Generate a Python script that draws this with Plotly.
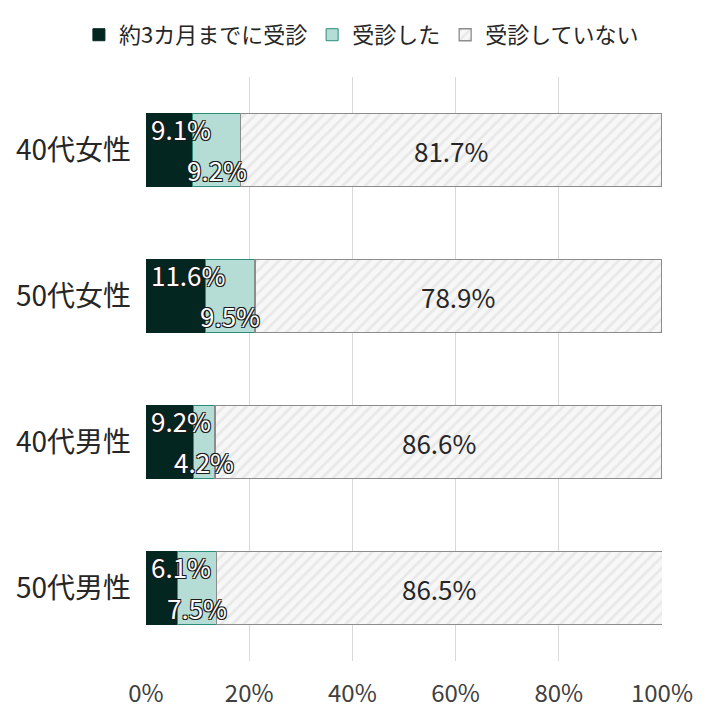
import plotly.graph_objects as go

# categories (top to bottom) and shares in %
groups = ["40代女性", "50代女性", "40代男性", "50代男性"]
within_3m = [9.1, 11.6, 9.2, 6.1]
visited = [9.2, 9.5, 4.2, 7.5]
not_visited = [81.7, 78.9, 86.6, 86.5]
x_ticks = [0, 20, 40, 60, 80, 100]
x_tick_labels = ["0%", "20%", "40%", "60%", "80%", "100%"]
series_names = ["約3カ月までに受診", "受診した", "受診していない"]

FONT = "Noto Sans CJK JP, Noto Sans, sans-serif"
OUTLINE = ("-1px -1px 0 #1a1a1a, 1px -1px 0 #1a1a1a, "
           "-1px 1px 0 #1a1a1a, 1px 1px 0 #1a1a1a")

fig = go.Figure()

fig.add_trace(go.Bar(
    y=groups, x=within_3m, orientation="h", name=series_names[0],
    marker=dict(color="#042620", line=dict(color="#042620", width=1)),
    hoverinfo="skip",
))
fig.add_trace(go.Bar(
    y=groups, x=visited, orientation="h", name=series_names[1],
    marker=dict(color="#b5ddd6", line=dict(color="#2a8c7a", width=1)),
    hoverinfo="skip",
))
fig.add_trace(go.Bar(
    y=groups, x=not_visited, orientation="h", name=series_names[2],
    marker=dict(color="#ffffff", line=dict(color="#8c8c8c", width=1.3),
                pattern=dict(shape="/", fgcolor="#d9d9d9", bgcolor="#f7f7f7",
                             size=8, solidity=0.35)),
    hoverinfo="skip",
))

# data labels: dark segment top-left, teal segment at bottom, grey in the middle
for g, a, b, c in zip(groups, within_3m, visited, not_visited):
    fig.add_annotation(
        x=0, xanchor="left", xshift=3, y=g, yshift=22, text=f"{a}%",
        showarrow=False,
        font=dict(size=26, color="white", family=FONT, shadow=OUTLINE),
    )
    fig.add_annotation(
        x=a + b / 2, y=g, yshift=-19, text=f"{b}%", showarrow=False,
        font=dict(size=26, color="white", family=FONT, shadow=OUTLINE),
    )
    fig.add_annotation(
        x=a + b + c / 2, y=g, text=f"{c}%", showarrow=False,
        font=dict(size=26, color="#262626", family=FONT),
    )

# page body adds an 8px offset, so the margins are shifted to compensate
fig.update_layout(
    width=720, height=720,
    barmode="stack", bargap=0.5,
    plot_bgcolor="white", paper_bgcolor="white",
    margin=dict(l=138, r=66, t=69, b=67, autoexpand=False),
    font=dict(family=FONT, size=22, color="#262626"),
    legend=dict(
        orientation="h", xref="paper", yref="paper",
        x=-0.13, xanchor="left", y=1.108, yanchor="top",
        font=dict(size=22, color="#262626"),
        traceorder="normal", itemwidth=30,
    ),
    showlegend=True,
)

fig.update_xaxes(
    range=[0, 100], tickvals=x_ticks, ticktext=x_tick_labels,
    showgrid=True, gridcolor="#d9d9d9", gridwidth=1,
    zeroline=False, showline=False, ticks="", automargin=False,
    tickfont=dict(size=24, color="#404040"), ticklabelstandoff=16,
)
fig.update_yaxes(
    autorange="reversed", showgrid=False, ticks="", automargin=False,
    tickfont=dict(size=28, color="#262626"), ticklabelstandoff=14,
)

fig.write_html("out.html")
